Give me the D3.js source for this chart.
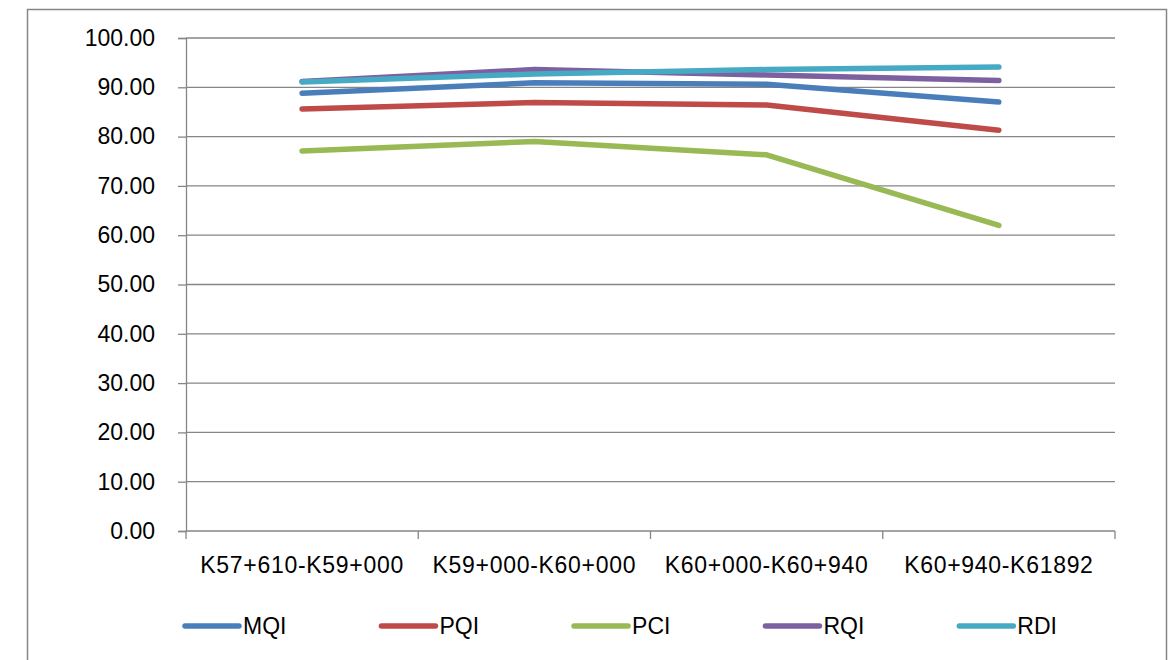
<!DOCTYPE html>
<html>
<head>
<meta charset="utf-8">
<script src="https://cdn.jsdelivr.net/npm/d3@7"></script>
<style>
  html, body { margin: 0; padding: 0; background: #fff; }
  svg { display: block; font-family: "Liberation Sans", Arial, sans-serif; }
</style>
</head>
<body>
<svg id="chart" width="1171" height="660"></svg>
<script>
// Road section condition indices per section
const categories = ["K57+610-K59+000", "K59+000-K60+000", "K60+000-K60+940", "K60+940-K61892"];
const seriesNames = ["MQI", "PQI", "PCI", "RQI", "RDI"];
const MQI = [88.8, 90.9, 90.6, 87.0];
const PQI = [85.6, 86.9, 86.4, 81.3];
const PCI = [77.1, 79.0, 76.3, 62.0];
const RQI = [91.2, 93.6, 92.5, 91.4];
const RDI = [91.1, 92.7, 93.6, 94.1];
const yTicks = [0, 10, 20, 30, 40, 50, 60, 70, 80, 90, 100];

const seriesValues = { MQI, PQI, PCI, RQI, RDI };
const colors = { MQI: "#4A7EBB", PQI: "#BE4B48", PCI: "#98B954", RQI: "#7D60A0", RDI: "#46AAC5" };

const svg = d3.select("#chart");
const grey = "#868686";

// chart frame
svg.append("rect")
  .attr("x", 27.5).attr("y", 9.5)
  .attr("width", 1139).attr("height", 700)
  .attr("fill", "none").attr("stroke", grey).attr("stroke-width", 1.5);

const plot = { left: 186, right: 1115, top: 38, bottom: 531 };

const x = d3.scaleBand().domain(categories).range([plot.left, plot.right]).padding(0);
const y = d3.scaleLinear().domain([0, 100]).range([plot.bottom, plot.top]);

// horizontal gridlines
svg.append("g")
  .selectAll("line")
  .data(yTicks.filter(t => t > 0))
  .join("line")
  .attr("x1", plot.left).attr("x2", plot.right)
  .attr("y1", d => y(d)).attr("y2", d => y(d))
  .attr("stroke", grey).attr("stroke-width", 1.3);

// y axis
const yAxis = svg.append("g")
  .attr("transform", `translate(${plot.left},0)`)
  .call(d3.axisLeft(y).tickValues(yTicks).tickFormat(d3.format(".2f")).tickSize(8).tickPadding(23));
yAxis.select(".domain").attr("stroke", grey).attr("stroke-width", 1.3);
yAxis.selectAll(".tick line").attr("stroke", grey).attr("stroke-width", 1.3);
yAxis.selectAll(".tick text")
  .attr("fill", "#000").style("font-size", "23px")
  .style("font-family", "'Liberation Sans', Arial, sans-serif");

// x axis with ticks at category boundaries
const xAxisG = svg.append("g").attr("transform", `translate(0,${plot.bottom})`);
xAxisG.append("line")
  .attr("x1", plot.left).attr("x2", plot.right)
  .attr("stroke", grey).attr("stroke-width", 1.3);
const boundaries = categories.map(c => x(c)).concat([x(categories[categories.length - 1]) + x.bandwidth()]);
xAxisG.selectAll("line.tk")
  .data(boundaries)
  .join("line")
  .attr("class", "tk")
  .attr("x1", d => d).attr("x2", d => d)
  .attr("y1", 0).attr("y2", 8)
  .attr("stroke", grey).attr("stroke-width", 1.3);
xAxisG.selectAll("text")
  .data(categories)
  .join("text")
  .attr("x", d => x(d) + x.bandwidth() / 2)
  .attr("y", 42)
  .attr("text-anchor", "middle")
  .style("font-size", "23px")
  .style("letter-spacing", "0.7px")
  .attr("fill", "#000")
  .text(d => d);

// series lines
const line = d3.line()
  .x((d, i) => x(categories[i]) + x.bandwidth() / 2)
  .y(d => y(d));

svg.append("g")
  .selectAll("path")
  .data(seriesNames)
  .join("path")
  .attr("d", s => line(seriesValues[s]))
  .attr("fill", "none")
  .attr("stroke", s => colors[s])
  .attr("stroke-width", 5.5)
  .attr("stroke-linecap", "round")
  .attr("stroke-linejoin", "round");

// legend: items laid out left to right, each advancing by its label width plus a gap
const legend = svg.append("g").attr("transform", "translate(185,626)");
const item = legend.selectAll("g")
  .data(seriesNames)
  .join("g");
item.append("line")
  .attr("x1", 0).attr("x2", 54)
  .attr("stroke", d => colors[d])
  .attr("stroke-width", 5.5)
  .attr("stroke-linecap", "round");
item.append("text")
  .attr("x", 58).attr("y", 0)
  .attr("dy", "0.35em")
  .style("font-size", "23px")
  .attr("fill", "#000")
  .text(d => d);
let cursor = 0;
item.each(function () {
  const g = d3.select(this);
  g.attr("transform", `translate(${cursor},0)`);
  cursor += g.select("text").node().getComputedTextLength() + 153;
});
</script>
</body>
</html>
